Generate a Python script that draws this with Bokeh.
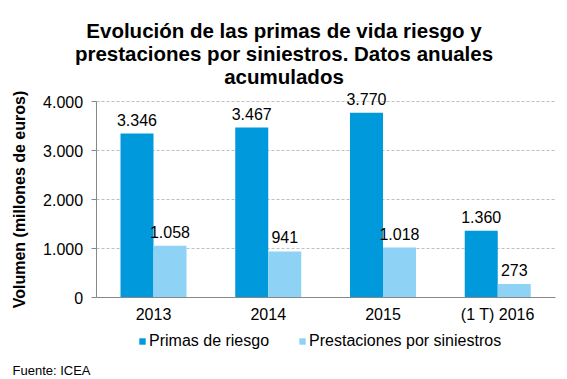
from bokeh.plotting import figure
from bokeh.models import (FixedTicker, LabelSet, Label, Legend, LegendItem,
                          ColumnDataSource, Range1d)
from bokeh.core.properties import value
from bokeh.transform import dodge
from bokeh.embed import file_html
from bokeh.resources import INLINE

categories = ["2013", "2014", "2015", "(1 T) 2016"]
primas = [3346, 3467, 3770, 1360]
prestaciones = [1058, 941, 1018, 273]
y_ticks = [0, 1000, 2000, 3000, 4000]
y_tick_labels = ["0", "1.000", "2.000", "3.000", "4.000"]
series_names = ["Primas de riesgo", "Prestaciones por siniestros"]
title_lines = ["Evolución de las primas de vida riesgo y",
               "prestaciones por siniestros. Datos anuales",
               "acumulados"]
source_note = "Fuente: ICEA"

DARK = "#0099DC"
LIGHT = "#8ED3F6"
FONT = "Liberation Sans"

W, H = 567, 379
# geometry of the plotting area inside the canvas (pixels)
X0_PX, CAT_PX = 153.0, 114.75        # centre of first category, width of one category
Y0_PX, UNIT_PX = 297.0, 196.0 / 4000  # pixel row of value 0, pixels per unit


def fmt(v):
    return f"{v:,}".replace(",", ".")


idx = list(range(len(categories)))
src = ColumnDataSource(dict(
    x=idx,
    primas=primas,
    prest=prestaciones,
    primas_lbl=[fmt(v) for v in primas],
    prest_lbl=[fmt(v) for v in prestaciones],
))

x_range = Range1d(-X0_PX / CAT_PX, (W - X0_PX) / CAT_PX)
y_range = Range1d(-(H - Y0_PX) / UNIT_PX, Y0_PX / UNIT_PX)

p = figure(x_range=x_range, y_range=y_range, width=W, height=H,
           output_backend="svg", toolbar_location=None,
           min_border=0, min_border_left=0, min_border_right=0,
           min_border_top=0, min_border_bottom=0)
p.outline_line_color = None
p.background_fill_color = "white"
p.border_fill_color = "white"

bw = 0.2876
off = 0.1438
r1 = p.vbar(x=dodge("x", -off), top="primas", width=bw, source=src,
            fill_color=DARK, line_color=None)
r2 = p.vbar(x=dodge("x", off), top="prest", width=bw, source=src,
            fill_color=LIGHT, line_color=None)

for col, lbl, o in (("primas", "primas_lbl", -off), ("prest", "prest_lbl", off)):
    p.add_layout(LabelSet(x=dodge("x", o), y=col, text=lbl, source=src,
                          text_align="center", text_baseline="alphabetic", y_offset=8,
                          text_font=value(FONT), text_font_size=value("16px"),
                          text_color=value("black")))

n = len(categories)
# y axis
ya = p.yaxis[0]
ya.fixed_location = -0.5
ya.bounds = (0, 4000)
ya.ticker = FixedTicker(ticks=y_ticks)
ya.major_label_overrides = {t: l for t, l in zip(y_ticks, y_tick_labels)}
ya.axis_label = "Volumen (millones de euros)"
ya.axis_label_text_font = FONT
ya.axis_label_text_font_style = "bold"
ya.axis_label_text_font_size = "16px"
ya.axis_label_text_color = "black"
ya.axis_label_standoff = 12
ya.major_label_text_font = FONT
ya.major_label_text_font_size = "16px"
ya.major_label_text_color = "black"
ya.major_label_standoff = 8
ya.major_tick_out = 5
ya.major_tick_in = 0
ya.minor_tick_line_color = None
ya.axis_line_color = "#888888"
ya.major_tick_line_color = "#888888"

# x axis
xa = p.xaxis[0]
xa.fixed_location = 0
xa.bounds = (-0.5, n - 0.5)
xa.ticker = FixedTicker(ticks=idx)
xa.major_label_overrides = {i: c for i, c in zip(idx, categories)}
xa.major_label_text_font = FONT
xa.major_label_text_font_size = "16px"
xa.major_label_text_color = "black"
xa.major_label_standoff = 8
xa.major_tick_line_color = None
xa.minor_tick_line_color = None
xa.major_tick_out = 0
xa.major_tick_in = 0
xa.axis_line_color = "#888888"

p.xgrid.grid_line_color = None
p.ygrid.grid_line_color = "#BFBFBF"
p.ygrid.grid_line_dash = "3 2"
p.ygrid.cross_bounds = (-0.5, n - 0.5)
p.ygrid.bounds = (1000, 4000)

# title (screen units: from canvas left / bottom)
for i, line in enumerate(title_lines):
    p.add_layout(Label(x=W / 2, y=H - (30 + 23 * i), x_units="screen", y_units="screen",
                       text=line, text_align="center", text_baseline="alphabetic",
                       text_font=FONT, text_font_style="bold", text_font_size="20.5px",
                       text_color="black"))

legend = Legend(items=[LegendItem(label=series_names[0], renderers=[r1]),
                       LegendItem(label=series_names[1], renderers=[r2])],
                orientation="horizontal", location=(138, 29),
                glyph_width=8, glyph_height=8, label_standoff=3, spacing=29,
                label_height=16, padding=0, margin=0, border_line_color=None,
                background_fill_alpha=0, label_text_font=FONT,
                label_text_font_size="16px", label_text_color="black")
p.add_layout(legend, "center")

p.add_layout(Label(x=12, y=9, x_units="screen", y_units="screen", text=source_note,
                   text_align="left", text_baseline="alphabetic", text_font=FONT,
                   text_font_size="13px", text_color="black"))

open("out.html", "w").write(file_html(p, INLINE))
